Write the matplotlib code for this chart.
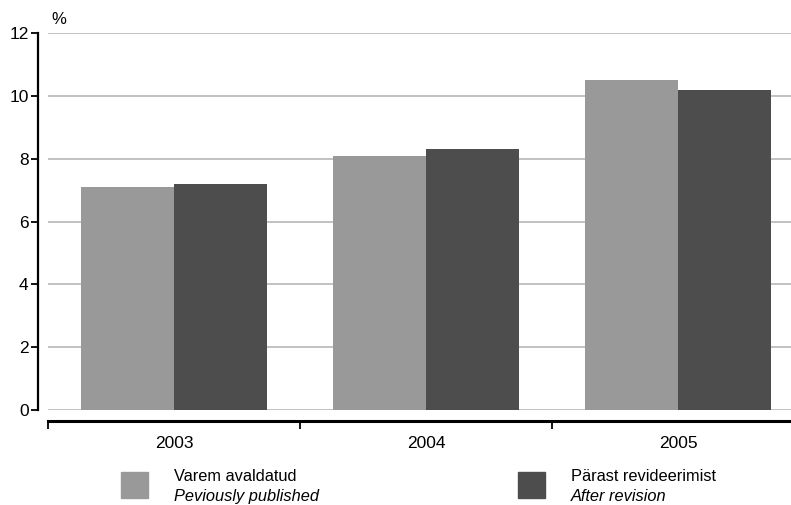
import matplotlib.pyplot as plt
from matplotlib.patches import Rectangle
import numpy as np

plt.rcParams['font.family'] = ['Liberation Sans', 'DejaVu Sans']

years = ['2003', '2004', '2005']
published = [7.1, 8.1, 10.5]
revised = [7.2, 8.3, 10.2]
labels_et = ['Varem avaldatud', 'Pärast revideerimist']
labels_en = ['Peviously published', 'After revision']
colors = ['#999999', '#4d4d4d']

W, H = 791, 505
fig = plt.figure(figsize=(W / 100, H / 100), dpi=100)
# axes spans x 48..804 px (last category runs past the right edge), y 33..410 px
ax = fig.add_axes([48 / W, (H - 410) / H, (804 - 48) / W, (410 - 33) / H])

x = np.arange(len(years))
bw = 0.371
ax.bar(x - bw / 2, published, bw, color=colors[0], zorder=2)
ax.bar(x + bw / 2, revised, bw, color=colors[1], zorder=2)

ax.set_xlim(-0.5, len(years) - 0.5)
ax.set_ylim(0, 12)
ax.set_yticks(range(0, 13, 2))
ax.yaxis.grid(True, color='#bdbdbd', linewidth=1.3, zorder=0)
ax.set_axisbelow(True)

# spines
for s in ['top', 'right']:
    ax.spines[s].set_visible(False)
ax.spines['left'].set_position(('outward', 7))
ax.spines['left'].set_linewidth(1.6)
ax.spines['bottom'].set_position(('outward', 8))
ax.spines['bottom'].set_linewidth(2.2)

ax.tick_params(axis='y', direction='out', length=5, width=1.3, labelsize=12.5, pad=2)

# year labels at centres, tick marks at category boundaries
ax.set_xticks(x)
ax.set_xticklabels(years)
ax.set_xticks(np.arange(-0.5, len(years), 1.0), minor=True)
ax.tick_params(axis='x', which='major', length=0, labelsize=12.5, pad=11)
ax.tick_params(axis='x', which='minor', direction='out', length=6, width=1.3)

fig.text(51 / W, 1 - 20 / H, '%', fontsize=12, va='center', ha='left')

# legend drawn by hand (two-line labels, second line italic)
leg_x = [121, 518]
for i in range(2):
    fig.add_artist(Rectangle((leg_x[i] / W, 1 - 498 / H), 27 / W, 26 / H,
                             transform=fig.transFigure, color=colors[i]))
    fig.text((leg_x[i] + 53) / W, 1 - 481 / H, labels_et[i], fontsize=11.8, va='baseline')
    fig.text((leg_x[i] + 53) / W, 1 - 501 / H, labels_en[i], fontsize=11.8,
             va='baseline', style='italic')

fig.savefig('out.png', dpi=100)
